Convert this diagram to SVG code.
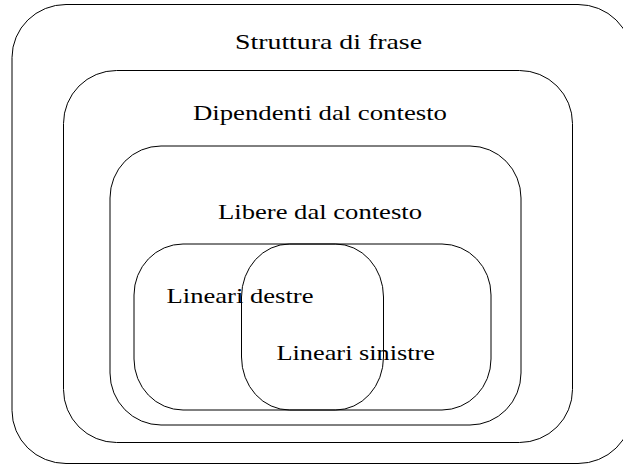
<svg xmlns="http://www.w3.org/2000/svg" width="623" height="466" viewBox="0 0 623 466">
<style>
.box{fill:none;stroke:#000;stroke-width:1}
text{font-family:'Liberation Serif','Times New Roman',serif;font-size:22px;fill:#000}
</style>
<rect width="623" height="466" fill="#fff"/>
<g id="struttura-di-frase">
<rect class="box" x="12" y="4.5" width="620" height="459" rx="54" ry="53"/>
<text x="235" y="49" textLength="187" lengthAdjust="spacingAndGlyphs">Struttura di frase</text>
</g>
<g id="dipendenti-dal-contesto">
<rect class="box" x="63.5" y="70.5" width="509" height="372" rx="53" ry="53"/>
<text x="193" y="120" textLength="254" lengthAdjust="spacingAndGlyphs">Dipendenti dal contesto</text>
</g>
<g id="libere-dal-contesto">
<rect class="box" x="110" y="146" width="411" height="279" rx="51" ry="52"/>
<text x="218" y="218.5" textLength="204" lengthAdjust="spacingAndGlyphs">Libere dal contesto</text>
</g>
<g id="lineari-destre">
<rect class="box" x="134" y="244" width="357" height="166" rx="49" ry="51"/>
<text x="166.5" y="302.7" textLength="147" lengthAdjust="spacingAndGlyphs">Lineari destre</text>
</g>
<g id="lineari-sinistre">
<rect class="box" x="241.5" y="244" width="142" height="166" rx="48" ry="53"/>
<text x="276.5" y="360" textLength="158.5" lengthAdjust="spacingAndGlyphs">Lineari sinistre</text>
</g>
<g id="connectors"/>
</svg>
